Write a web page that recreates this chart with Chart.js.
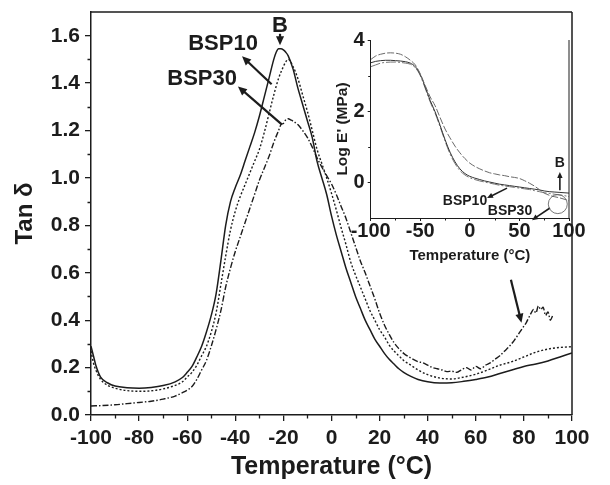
<!DOCTYPE html>
<html><head><meta charset="utf-8">
<script src="https://cdn.jsdelivr.net/npm/chart.js@4.4.1/dist/chart.umd.min.js"></script>
<style>
html,body{margin:0;padding:0;background:#fff;}
#wrap{position:relative;width:610px;height:485px;overflow:hidden;background:#fff;}
#main{position:absolute;left:0;top:0;}
#inset{position:absolute;left:300px;top:20px;}
</style></head><body>
<div id="wrap"><canvas id="main" width="610" height="485"></canvas><canvas id="inset" width="290" height="255"></canvas></div>
<script>
// ---------- main chart data (Tan delta vs temperature) ----------
const bT = [-100,-99,-98,-96,-93,-90,-85,-80,-75,-70,-65,-62,-60,-58,-56,-54,-52,-50,-48,-46,-44,-42,-40,-38,-36,-34,-32,-30,-28,-26,-24,-23,-22,-21,-20,-19,-18,-16,-14,-12,-10,-8,-6,-4,-2,0,2,4,6,8,10,12,14,16,18,20,22,24,26,28,30,33,36,40,45,50,55,60,65,70,75,80,85,90,95,100];
const bV = [0.29,0.25,0.21,0.16,0.135,0.122,0.115,0.113,0.116,0.124,0.14,0.158,0.18,0.205,0.245,0.29,0.35,0.42,0.51,0.65,0.80,0.90,0.96,1.01,1.07,1.13,1.19,1.26,1.34,1.42,1.50,1.53,1.545,1.545,1.54,1.53,1.515,1.46,1.38,1.31,1.24,1.17,1.07,1.0,0.93,0.84,0.76,0.69,0.62,0.56,0.50,0.45,0.40,0.36,0.32,0.29,0.26,0.235,0.215,0.195,0.18,0.163,0.15,0.14,0.135,0.136,0.142,0.15,0.16,0.175,0.19,0.205,0.215,0.228,0.245,0.262];

const p10T = [-100,-99,-98,-96,-93,-90,-85,-80,-75,-70,-65,-62,-60,-58,-56,-54,-52,-50,-48,-46,-44,-42,-40,-38,-36,-34,-32,-30,-28,-26,-24,-22,-20,-19,-18,-16,-14,-12,-10,-8,-6,-4,-2,0,2,4,6,8,10,12,14,16,18,20,22,24,26,28,30,33,36,40,45,50,55,60,65,70,75,80,85,90,95,100];
const p10V = [0.27,0.22,0.19,0.15,0.125,0.113,0.103,0.1,0.102,0.11,0.125,0.14,0.16,0.18,0.21,0.25,0.29,0.35,0.43,0.55,0.67,0.78,0.86,0.92,0.97,1.02,1.07,1.12,1.19,1.27,1.35,1.42,1.47,1.49,1.50,1.47,1.42,1.35,1.28,1.20,1.12,1.06,1.0,0.935,0.865,0.79,0.72,0.645,0.59,0.54,0.49,0.44,0.40,0.36,0.33,0.295,0.27,0.25,0.23,0.21,0.19,0.17,0.156,0.152,0.16,0.172,0.19,0.21,0.225,0.245,0.265,0.278,0.285,0.288];

const p30T = [-100,-95,-90,-85,-80,-75,-70,-65,-62,-60,-58,-56,-54,-52,-50,-48,-46,-44,-42,-40,-38,-36,-34,-32,-30,-28,-26,-24,-22,-21,-20,-19,-18,-17,-16,-14,-12,-10,-8,-6,-4,-2,0,2,4,6,8,10,12,14,16,18,20,22,24,26,28,30,33,36,38,40,42,44,46,48,50,52,54,56,58,60,62,64,66,68,70,72,74,76,78,80,81,82,83,84,85,86,87,88,89,90,91,92];
const p30V = [0.038,0.04,0.043,0.048,0.053,0.058,0.067,0.08,0.094,0.105,0.12,0.15,0.19,0.23,0.29,0.36,0.44,0.54,0.62,0.69,0.75,0.81,0.87,0.93,0.99,1.04,1.09,1.15,1.2,1.225,1.23,1.245,1.25,1.245,1.24,1.225,1.2,1.17,1.13,1.085,1.045,1.01,0.975,0.93,0.88,0.83,0.77,0.71,0.65,0.6,0.545,0.49,0.43,0.38,0.34,0.305,0.28,0.26,0.24,0.225,0.22,0.21,0.2,0.195,0.19,0.183,0.185,0.18,0.19,0.2,0.19,0.205,0.195,0.21,0.22,0.235,0.25,0.27,0.29,0.315,0.345,0.375,0.39,0.41,0.43,0.445,0.43,0.46,0.445,0.455,0.42,0.435,0.4,0.42];

// ---------- inset data (Log E' vs temperature) ----------
const iT  = [-100,-95,-90,-85,-80,-75,-70,-65,-60,-55,-50,-45,-40,-35,-30,-25,-20,-15,-10,-5,0,5,10,15,20,25,30,35,40,45,50,55,60,65,70,75,80,85,90,95,100];
const iA  = [3.45,3.55,3.6,3.63,3.64,3.63,3.6,3.53,3.43,3.3,3.05,2.72,2.4,2.15,1.82,1.5,1.25,1.02,0.83,0.67,0.54,0.45,0.38,0.32,0.27,0.24,0.21,0.19,0.16,0.14,0.11,0.05,-0.02,-0.1,-0.2,-0.3,-0.36,-0.4,-0.43,-0.47,-0.52];
const iB  = [3.36,3.4,3.42,3.43,3.43,3.42,3.41,3.39,3.35,3.25,3.03,2.68,2.3,1.98,1.6,1.2,0.85,0.58,0.38,0.25,0.17,0.12,0.08,0.04,0.01,-0.02,-0.05,-0.07,-0.09,-0.11,-0.13,-0.15,-0.17,-0.19,-0.21,-0.24,-0.26,-0.27,-0.28,-0.29,-0.3];
const iC  = [3.25,3.3,3.35,3.37,3.38,3.38,3.37,3.35,3.32,3.22,3.0,2.64,2.26,1.94,1.56,1.16,0.8,0.53,0.33,0.21,0.13,0.08,0.04,0.01,-0.02,-0.05,-0.08,-0.1,-0.12,-0.14,-0.16,-0.18,-0.2,-0.23,-0.26,-0.29,-0.31,-0.33,-0.35,-0.37,-0.4];

// minor tick values
const mainXTicksMinor = [-90,-70,-50,-30,-10,10,30,50,70,90];
const mainYTicksMinor = [0.1,0.3,0.5,0.7,0.9,1.1,1.3,1.5];
const insetXTicksMinor = [-75,-25,25,75];
const insetYTicksMinor = [1,3];

// annotation labels (data coordinates)
const mainNotes = [
  {text:'B', x:-21.4, y:1.64},
  {text:'BSP10', x:-45.1, y:1.564},
  {text:'BSP30', x:-53.8, y:1.416}
];
const mainArrows = [
  {from:[-21.4,1.608], to:[-21.4,1.56]},
  {from:[-24.9,1.395], to:[-37.2,1.513]},
  {from:[-20.7,1.226], to:[-38.9,1.386]},
  {from:[74.6,0.571], to:[79.0,0.389]}
];
const insetNotes = [
  {text:'B', x:90.8, y:0.54},
  {text:'BSP10', x:-4.9, y:-0.53},
  {text:'BSP30', x:40.5, y:-0.81}
];
const insetArrows = [
  {from:[90.8,-0.22], to:[90.8,0.29]},
  {from:[37.5,-0.16], to:[17.3,-0.44]},
  {from:[80.8,-0.72], to:[62.7,-1.06]}
];
const insetCircles = [{x:88.7, y:-0.61, r:9.5}];

const FONT = "'Liberation Sans', Arial, Helvetica, sans-serif";
const INK = '#1c1c1c';

function pts(xs, ys){ return xs.map((x,i)=>({x:x, y:ys[i]})); }

function drawArrow(ctx, x1, y1, x2, y2, w, head){
  const ang = Math.atan2(y2-y1, x2-x1);
  ctx.lineWidth = w;
  ctx.beginPath();
  ctx.moveTo(x1, y1);
  ctx.lineTo(x2 - Math.cos(ang)*head*0.8, y2 - Math.sin(ang)*head*0.8);
  ctx.stroke();
  ctx.beginPath();
  ctx.moveTo(x2, y2);
  ctx.lineTo(x2 - head*Math.cos(ang) + head*0.45*Math.sin(ang), y2 - head*Math.sin(ang) - head*0.45*Math.cos(ang));
  ctx.lineTo(x2 - head*Math.cos(ang) - head*0.45*Math.sin(ang), y2 - head*Math.sin(ang) + head*0.45*Math.cos(ang));
  ctx.closePath();
  ctx.fill();
}

const extras = {
  id:'extras',
  afterDraw(chart, args, o){
    const ctx = chart.ctx, a = chart.chartArea, x = chart.scales.x, y = chart.scales.y;
    ctx.save();
    ctx.strokeStyle = INK; ctx.fillStyle = INK;
    ctx.lineWidth = o.frameWidth;
    ctx.beginPath();
    if (o.top){ ctx.moveTo(a.left, a.top); ctx.lineTo(a.right, a.top); }
    ctx.moveTo(a.right, a.top); ctx.lineTo(a.right, a.bottom);
    ctx.stroke();
    ctx.lineWidth = o.tickWidth;
    ctx.beginPath();
    o.minorX.forEach(v=>{ const px = Math.round(x.getPixelForValue(v))+0.5; ctx.moveTo(px, a.bottom); ctx.lineTo(px, a.bottom + o.minorLen); });
    o.minorY.forEach(v=>{ const py = Math.round(y.getPixelForValue(v))+0.5; ctx.moveTo(a.left, py); ctx.lineTo(a.left - o.minorLen, py); });
    ctx.stroke();
    ctx.font = o.noteFont;
    ctx.textAlign = 'center'; ctx.textBaseline = 'middle';
    o.notes.forEach(n=> ctx.fillText(n.text, x.getPixelForValue(n.x), y.getPixelForValue(n.y)));
    o.arrows.forEach(ar=> drawArrow(ctx, x.getPixelForValue(ar.from[0]), y.getPixelForValue(ar.from[1]), x.getPixelForValue(ar.to[0]), y.getPixelForValue(ar.to[1]), o.arrowWidth, o.headLen));
    (o.circles||[]).forEach(c=>{ ctx.lineWidth = 0.8; ctx.strokeStyle='#555'; ctx.beginPath(); ctx.arc(x.getPixelForValue(c.x), y.getPixelForValue(c.y), c.r, 0, Math.PI*2); ctx.stroke(); });
    ctx.restore();
  }
};

const base = {pointRadius:0, fill:false, cubicInterpolationMode:'monotone', borderColor:INK};

new Chart(document.getElementById('main'), {
  type:'line',
  data:{datasets:[
    Object.assign({label:'B', data:pts(bT,bV), borderWidth:1.5}, base),
    Object.assign({label:'BSP10', data:pts(p10T,p10V), borderWidth:1.4, borderDash:[2,2]}, base),
    Object.assign({label:'BSP30', data:pts(p30T,p30V), borderWidth:1.4, borderDash:[6,2,1.5,2]}, base)
  ]},
  options:{
    responsive:false, animation:false, devicePixelRatio:1,
    layout:{padding:{left:4, top:12, right:38, bottom:0}},
    plugins:{legend:{display:false}, tooltip:{enabled:false},
      extras:{top:true, frameWidth:1.5, tickWidth:1.3, minorLen:3.5, minorX:mainXTicksMinor, minorY:mainYTicksMinor,
        noteFont:"bold 22px "+FONT, notes:mainNotes, arrows:mainArrows, arrowWidth:2.2, headLen:9}},
    scales:{
      x:{type:'linear', min:-100, max:100,
        ticks:{stepSize:20, autoSkip:false, maxRotation:0, includeBounds:false, color:INK, padding:5,
          font:{family:FONT, size:21, weight:'bold'}, callback:v=>String(v)},
        grid:{display:true, drawOnChartArea:false, drawTicks:true, tickLength:6, color:INK, lineWidth:1.3},
        border:{display:true, color:INK, width:1.5},
        title:{display:true, text:'Temperature (°C)', color:INK, font:{family:FONT, size:25, weight:'bold'}, padding:{top:0, bottom:3}},
        afterFit(s){ s.height = 70; }
      },
      y:{type:'linear', min:0, max:1.7,
        ticks:{stepSize:0.2, includeBounds:false, color:INK, padding:5,
          font:{family:FONT, size:21, weight:'bold', lineHeight:0.6}, callback:v=>Number(v).toFixed(1)},
        grid:{display:true, drawOnChartArea:false, drawTicks:true, tickLength:6, color:INK, lineWidth:1.3},
        border:{display:true, color:INK, width:1.5},
        title:{display:true, text:'Tan δ', color:INK, font:{family:FONT, size:24, weight:'bold'}, padding:{top:7, bottom:0}},
        afterFit(s){ s.width = 87; }
      }
    }
  },
  plugins:[extras]
});

const ibase = {pointRadius:0, fill:false, cubicInterpolationMode:'monotone', borderWidth:1};
new Chart(document.getElementById('inset'), {
  type:'line',
  data:{datasets:[
    Object.assign({label:'B', data:pts(iT,iA), borderColor:'#6a6a6a', borderDash:[7,2]}, ibase),
    Object.assign({label:'BSP10', data:pts(iT,iB), borderColor:'#333'}, ibase),
    Object.assign({label:'BSP30', data:pts(iT,iC), borderColor:'#777', borderDash:[10,2,2,2]}, ibase)
  ]},
  options:{
    responsive:false, animation:false, devicePixelRatio:1,
    layout:{padding:{left:20, top:20, right:21, bottom:0}},
    plugins:{legend:{display:false}, tooltip:{enabled:false},
      extras:{top:false, frameWidth:1, tickWidth:1, minorLen:2.5, minorX:insetXTicksMinor, minorY:insetYTicksMinor,
        noteFont:"bold 14px "+FONT, notes:insetNotes, arrows:insetArrows, circles:insetCircles, arrowWidth:1.6, headLen:6}},
    scales:{
      x:{type:'linear', min:-100, max:100,
        ticks:{stepSize:50, autoSkip:false, maxRotation:0, includeBounds:false, color:INK, padding:-2,
          font:{family:FONT, size:20, weight:'bold'}, callback:v=>String(v)},
        grid:{display:true, drawOnChartArea:false, drawTicks:true, tickLength:3, color:INK, lineWidth:1},
        border:{display:true, color:INK, width:1},
        title:{display:true, text:'Temperature (°C)', color:INK, font:{family:FONT, size:15, weight:'bold'}, padding:{top:0, bottom:10}},
        afterFit(s){ s.height = 57; }
      },
      y:{type:'linear', min:-1, max:4,
        ticks:{stepSize:2, includeBounds:false, color:INK, padding:3,
          font:{family:FONT, size:20, weight:'bold'}, callback:v=>String(v)},
        grid:{display:true, drawOnChartArea:false, drawTicks:true, tickLength:3, color:INK, lineWidth:1},
        border:{display:true, color:INK, width:1},
        title:{display:true, text:"Log E' (MPa)", color:INK, font:{family:FONT, size:15.5, weight:'bold'}, padding:{top:13.7, bottom:0}},
        afterFit(s){ s.width = 50.7; }
      }
    }
  },
  plugins:[extras]
});
</script>
</body></html>
